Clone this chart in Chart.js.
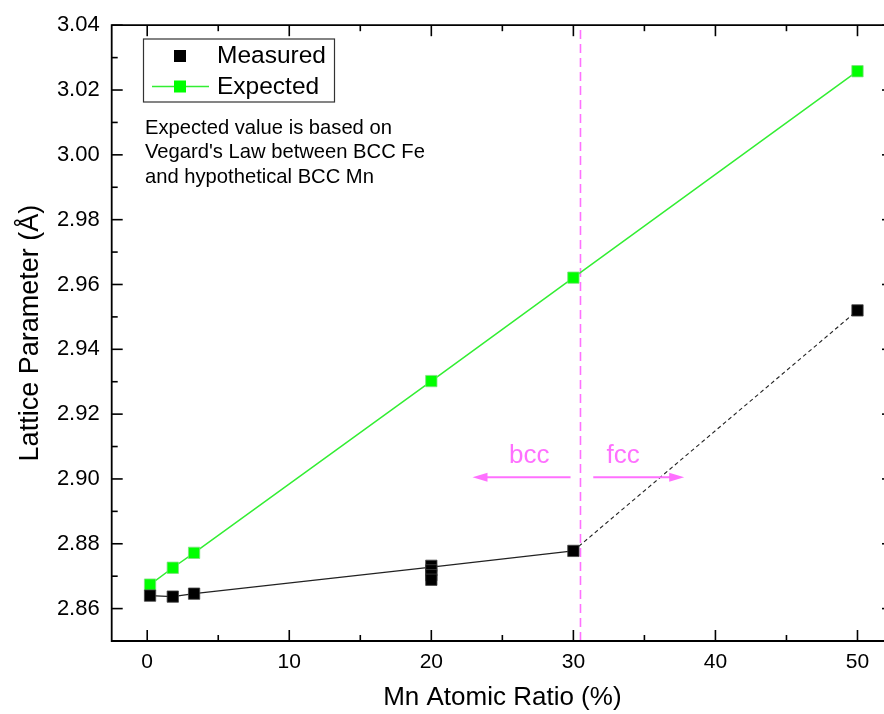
<!DOCTYPE html>
<html><head><meta charset="utf-8">
<script src="https://cdn.jsdelivr.net/npm/chart.js@4.4.0/dist/chart.umd.min.js"></script>
<style>
html,body{margin:0;padding:0;background:#fff;overflow:hidden;width:884px;height:714px;}
#wrap{position:relative;width:884px;height:714px;overflow:hidden;}
canvas{display:block;}
</style></head><body>
<div id="wrap"><canvas id="c" width="910" height="714"></canvas></div>
<script>
// ---- data ----
const mnMeasured  = [0.2, 1.8, 3.3, 20, 20, 20, 20, 30, 50];
const latMeasured = [2.8640, 2.8637, 2.8646, 2.8732, 2.8718, 2.8703, 2.8689, 2.8778, 2.9520];
const mnExpected  = [0.2, 1.8, 3.3, 20, 30, 50];
const latExpected = [2.8674, 2.8726, 2.8772, 2.9302, 2.9621, 3.0258];
const mnTrend     = [0.2, 1.8, 3.3, 20, 30];
const latTrend    = [2.8640, 2.8637, 2.8646, 2.8728, 2.8778];
const mnExtrap    = [30, 50];
const latExtrap   = [2.8778, 2.9520];
const phaseBoundary = 30.5;
const xTickValues = [0, 10, 20, 30, 40, 50];
const yTickValues = [2.86, 2.88, 2.90, 2.92, 2.94, 2.96, 2.98, 3.00, 3.02, 3.04];
const xRange = [-2.5, 52.5];
const yRange = [2.85, 3.04];
const seriesNames = ['Measured', 'Expected'];
const noteLines = ['Expected value is based on', "Vegard's Law between BCC Fe", 'and hypothetical BCC Mn'];
// phase labels: [text, x, y] and arrows [x from, x to, y]
const phaseLabels = [['bcc', 26.9, 2.9072], ['fcc', 33.5, 2.9072]];
const phaseArrows = [[29.8, 22.9, 2.9005], [31.4, 37.8, 2.9005]];

const FONT = '"Liberation Sans", Arial, sans-serif';
const GREEN = '#00ff00';
const PINK = '#ff70ff';
const zip = (xs, ys) => xs.map((v, i) => ({x: v, y: ys[i]}));

const framePlugin = {
  id: 'frame',
  afterDatasetsDraw(chart) {
    const {ctx, chartArea: a, scales: {x, y}} = chart;
    ctx.save();
    ctx.strokeStyle = '#000';
    ctx.lineWidth = 1.8;
    ctx.beginPath();
    ctx.rect(a.left, a.top, a.right - a.left, a.bottom - a.top);
    ctx.stroke();
    ctx.lineWidth = 1.6;
    const ln = (x1, y1, x2, y2) => { ctx.beginPath(); ctx.moveTo(x1, y1); ctx.lineTo(x2, y2); ctx.stroke(); };
    for (let v = 0; v <= 50; v += 5) {
      const px = x.getPixelForValue(v);
      const L = (v % 10 === 0) ? 11 : 6;
      ln(px, a.bottom, px, a.bottom - L);
      ln(px, a.top, px, a.top + L);
    }
    for (let i = 0; i <= 18; i++) {
      const v = 2.86 + i * 0.01;
      const py = y.getPixelForValue(v);
      const L = (i % 2 === 0) ? 11 : 6;
      ln(a.left, py, a.left + L, py);
      ln(a.right, py, a.right - L, py);
    }
    ctx.restore();
  },
  afterDraw(chart) {
    const {ctx, scales: {x, y}} = chart;
    ctx.save();
    // phase arrows and labels
    ctx.strokeStyle = PINK; ctx.fillStyle = PINK; ctx.lineWidth = 2;
    phaseArrows.forEach(([x1, x2, yv]) => {
      const p1 = x.getPixelForValue(x1), p2 = x.getPixelForValue(x2), py = y.getPixelForValue(yv);
      const dir = Math.sign(p2 - p1);
      ctx.beginPath(); ctx.moveTo(p1, py); ctx.lineTo(p2 - dir * 10, py); ctx.stroke();
      ctx.beginPath(); ctx.moveTo(p2, py); ctx.lineTo(p2 - dir * 15, py - 4.5); ctx.lineTo(p2 - dir * 15, py + 4.5); ctx.closePath(); ctx.fill();
    });
    ctx.font = '26px ' + FONT; ctx.textAlign = 'center'; ctx.textBaseline = 'middle';
    phaseLabels.forEach(([t, xv, yv]) => ctx.fillText(t, x.getPixelForValue(xv), y.getPixelForValue(yv)));
    // legend
    ctx.fillStyle = '#fff'; ctx.strokeStyle = '#333'; ctx.lineWidth = 1.2;
    ctx.fillRect(143.5, 39, 191, 63); ctx.strokeRect(143.5, 39, 191, 63);
    ctx.fillStyle = '#000'; ctx.fillRect(174, 50, 12, 12);
    ctx.strokeStyle = '#33ee33'; ctx.lineWidth = 1.5;
    ctx.beginPath(); ctx.moveTo(152, 86.5); ctx.lineTo(209, 86.5); ctx.stroke();
    ctx.fillStyle = GREEN; ctx.fillRect(174, 80.5, 12, 12);
    ctx.fillStyle = '#000'; ctx.font = '24.5px ' + FONT; ctx.textAlign = 'left'; ctx.textBaseline = 'middle';
    ctx.fillText(seriesNames[0], 217, 56);
    ctx.fillText(seriesNames[1], 217, 87);
    // note
    ctx.font = '20.2px ' + FONT;
    noteLines.forEach((t, i) => ctx.fillText(t, 145, 128 + i * 24.5));
    ctx.restore();
  }
};

new Chart(document.getElementById('c'), {
  type: 'scatter',
  data: {
    datasets: [
      {label: seriesNames[0], data: zip(mnMeasured, latMeasured), showLine: false,
       pointStyle: 'rect', pointRadius: 8, backgroundColor: '#000', borderColor: '#444', borderWidth: 0.8},
      {label: seriesNames[1], data: zip(mnExpected, latExpected), showLine: true,
       pointStyle: 'rect', pointRadius: 8, backgroundColor: GREEN, borderColor: '#33ee33', borderWidth: 1.5,
       pointBorderColor: '#7fdf7f', pointBorderWidth: 0.8},
      {label: 'trend', data: zip(mnTrend, latTrend), showLine: true, pointRadius: 0,
       borderColor: '#222', borderWidth: 1.2},
      {label: 'extrap', data: zip(mnExtrap, latExtrap), showLine: true, pointRadius: 0,
       borderColor: '#222', borderWidth: 1.1, borderDash: [4, 3]},
      {label: 'boundary', data: [{x: phaseBoundary, y: yRange[0]}, {x: phaseBoundary, y: yRange[1]}], showLine: true,
       pointRadius: 0, borderColor: PINK, borderWidth: 1.6, borderDash: [9, 5]}
    ]
  },
  options: {
    responsive: false, animation: false, devicePixelRatio: 1,
    layout: {padding: {left: 0, top: 21.7, right: 17, bottom: 0}},
    plugins: {legend: {display: false}, tooltip: {enabled: false}},
    scales: {
      x: {
        type: 'linear', min: xRange[0], max: xRange[1],
        grid: {display: false, drawTicks: false}, border: {display: false},
        ticks: {color: '#000', font: {family: FONT, size: 21}, padding: 9},
        title: {display: true, text: 'Mn Atomic Ratio (%)', color: '#000', font: {family: FONT, size: 26}, padding: {top: 1, bottom: 1}},
        afterBuildTicks: s => { s.ticks = xTickValues.map(v => ({value: v})); },
        afterFit: s => { s.height = 73; }
      },
      y: {
        type: 'linear', min: yRange[0], max: yRange[1],
        grid: {display: false, drawTicks: false}, border: {display: false},
        ticks: {color: '#000', font: {family: FONT, size: 22}, padding: 12, callback: v => Number(v).toFixed(2)},
        title: {display: true, text: 'Lattice Parameter (Å)', color: '#000', font: {family: FONT, size: 27}, padding: {top: 14, bottom: 14}},
        afterBuildTicks: s => { s.ticks = yTickValues.map(v => ({value: v})); },
        afterFit: s => { s.width = 111.7; }
      }
    }
  },
  plugins: [framePlugin]
});
</script>
</body></html>
